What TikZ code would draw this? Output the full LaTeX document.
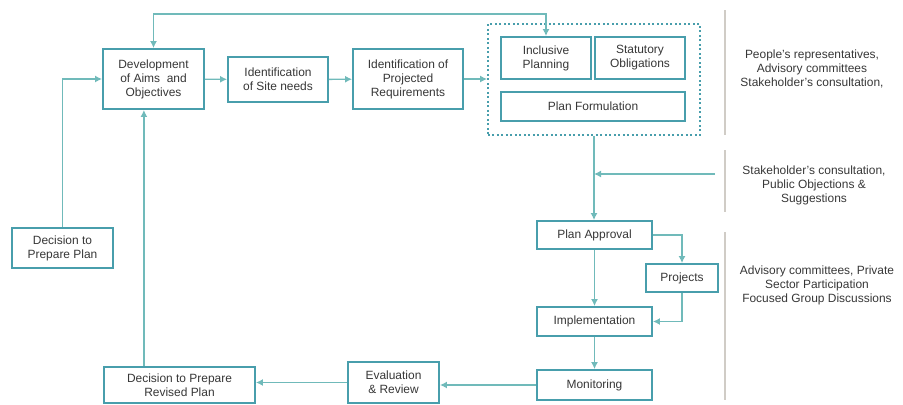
\documentclass[tikz,border=0pt]{standalone}
\usepackage{fontspec}
\setmainfont{Liberation Sans}
\usepackage{tikz}
\usetikzlibrary{arrows.meta,positioning,calc}
\definecolor{boxteal}{RGB}{72,158,172}
\definecolor{linkteal}{RGB}{112,186,186}
\definecolor{sepgray}{RGB}{208,204,198}
\definecolor{textgray}{RGB}{55,55,55}
\begin{document}
\begin{tikzpicture}[x=0.025cm,y=-0.025cm,
    every node/.style={font=\fontsize{8.5}{10}\selectfont,text=textgray},
    stage/.style={draw=boxteal,line width=1.3pt,fill=white,align=center,inner sep=1pt},
    flow/.style={draw=linkteal,line width=1pt,-{Latex[length=5pt,width=5pt]}},
    note/.style={align=center},
    sepline/.style={draw=sepgray,line width=0.8pt}]
  \useasboundingbox (0,0) rectangle (903,404);
  %% Plan formulation group
  \node[draw=boxteal,dotted,line width=1.2pt,minimum width=5.3cm,minimum height=2.775cm]
        (group) at (594,79.5) {};
  \node[stage,minimum width=2.25cm,minimum height=1.05cm] (incl) at (546,58)
        {Inclusive\\Planning};
  \node[stage,minimum width=2.25cm,minimum height=1.05cm] (stat) at (640,58)
        {Statutory\\Obligations};
  \node[stage,minimum width=4.6cm,minimum height=0.725cm] (form) at (593,106.5)
        {Plan Formulation};
  %% Top row
  \node[stage,minimum width=2.525cm,minimum height=1.5cm] (dev) at (153.5,79)
        {Development\\of Aims\ \ and\\Objectives};
  \node[stage,minimum width=2.5cm,minimum height=1.125cm] (site) at (278,79.5)
        {Identification\\of Site needs};
  \node[stage,minimum width=2.75cm,minimum height=1.5cm] (req) at (408,79)
        {Identification of\\Projected\\Requirements};
  %% Left
  \node[stage,minimum width=2.525cm,minimum height=1cm] (decide) at (62.5,248)
        {Decision to\\Prepare Plan};
  %% Right column
  \node[stage,minimum width=2.875cm,minimum height=0.7cm] (approve) at (594.5,235)
        {Plan Approval};
  \node[stage,minimum width=1.8cm,minimum height=0.7cm] (proj) at (682,278)
        {Projects};
  \node[stage,minimum width=2.875cm,minimum height=0.725cm] (impl) at (594.5,321.5)
        {Implementation};
  \node[stage,minimum width=2.875cm,minimum height=0.75cm] (monit) at (594.5,385)
        {Monitoring};
  %% Bottom row
  \node[stage,minimum width=2.275cm,minimum height=1.025cm] (eval) at (393.5,382.5)
        {Evaluation\\\& Review};
  \node[stage,minimum width=3.775cm,minimum height=0.9cm] (revise) at (179.5,385)
        {Decision to Prepare\\Revised Plan};
  %% Participation notes
  \node[note] (note1) at (812,69)
        {People's representatives,\\Advisory committees\\Stakeholder's consultation,};
  \node[note] (note2) at (814,185)
        {Stakeholder's consultation,\\Public Objections \&\\Suggestions};
  \node[note] (note3) at (817,285)
        {Advisory committees, Private\\Sector Participation\\Focused Group Discussions};
  \draw[sepline] (725,10) -- (725,135);
  \draw[sepline] (725,150) -- (725,212);
  \draw[sepline] (725,232) -- (725,400);
  %% Connectors
  \coordinate (top) at (350,14);
  \coordinate (inflow) at (715,174);
  \coordinate (devin) at ([xshift=-0.24cm]dev.south);
  \draw[flow] (decide.north) |- (dev.west);
  \draw[flow] (dev) -- (site);
  \draw[flow] (site) -- (req);
  \draw[flow] (req.east) -- (req.east -| group.west);
  \draw[flow,{Latex[length=5pt,width=5pt]}-{Latex[length=5pt,width=5pt]}]
        (dev.north) |- (top) -| (incl.north);
  \draw[flow] (group.south) -- (group.south |- approve.north);
  \draw[flow] (inflow) -- (inflow -| group.south);
  \draw[flow] (approve.east) -| (proj.north);
  \draw[flow] (proj.south) |- (impl.east);
  \draw[flow] (approve.south) -- (impl.north);
  \draw[flow] (impl.south) -- (monit.north);
  \draw[flow] (monit.west) -- (monit.west -| eval.east);
  \draw[flow] (eval.west) -- (eval.west -| revise.east);
  \draw[flow] (devin |- revise.north) -- (devin);
\end{tikzpicture}
\end{document}
